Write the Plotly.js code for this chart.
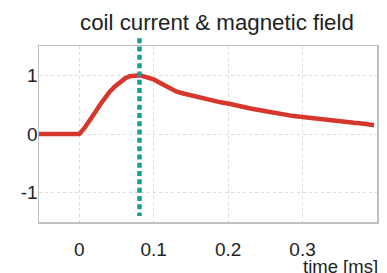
<!DOCTYPE html>
<html>
<head>
<meta charset="utf-8">
<script src="https://cdn.plot.ly/plotly-3.0.1.min.js"></script>
<style>html,body{margin:0;padding:0;background:#fff;}#chart{width:387px;height:273px;}</style>
</head>
<body>
<div id="chart"></div>
<script>
// time [ms]
const timeMs = [-0.054, 0, 0.007, 0.014, 0.021, 0.028, 0.035, 0.041, 0.048, 0.055, 0.062, 0.068, 0.075, 0.082, 0.09, 0.1, 0.11, 0.118, 0.125, 0.131, 0.14, 0.15, 0.158, 0.167, 0.176, 0.19, 0.203, 0.215, 0.23, 0.245, 0.261, 0.275, 0.288, 0.3, 0.315, 0.33, 0.342, 0.355, 0.369, 0.383, 0.396];
// normalized coil current / magnetic field
const fieldValues = [0, 0, 0.1, 0.22, 0.36, 0.5, 0.62, 0.72, 0.81, 0.89, 0.95, 0.985, 0.99, 1.0, 0.97, 0.93, 0.86, 0.8, 0.76, 0.72, 0.69, 0.66, 0.63, 0.6, 0.57, 0.54, 0.51, 0.47, 0.435, 0.40, 0.36, 0.335, 0.305, 0.29, 0.265, 0.245, 0.226, 0.21, 0.19, 0.175, 0.15];
// peak marker time
const peakTime = [0.081];
const xTickVals = [0, 0.1, 0.2, 0.3];
const xTickText = ['0', '0.1', '0.2', '0.3'];
const yTickVals = [-1, 0, 1];
const yTickText = ['-1', '0', '1'];
const titleText = 'coil current & magnetic field';
const xLabel = 'time [ms]';

const FONT = 'Liberation Sans, Arial, sans-serif';

const traces = [{
  x: timeMs,
  y: fieldValues,
  type: 'scatter',
  mode: 'lines',
  line: {color: '#d6362b', width: 4.5},
  hoverinfo: 'skip'
}];

const layout = {
  width: 387,
  height: 273,
  margin: {l: 39, r: 10, t: 46, b: 51},
  paper_bgcolor: '#ffffff',
  plot_bgcolor: '#ffffff',
  showlegend: false,
  font: {family: FONT, color: '#222', size: 19},
  xaxis: {
    range: [-0.054, 0.4],
    tickvals: xTickVals,
    ticktext: xTickText,
    ticks: '',
    ticklabelstandoff: 10,
    showgrid: true,
    gridcolor: '#dcdcdc',
    griddash: 'dot',
    gridwidth: 1,
    zeroline: false,
    showline: true,
    mirror: true,
    linecolor: '#c0c0c0',
    linewidth: 1.5,
    tickfont: {family: FONT, size: 19, color: '#222'}
  },
  yaxis: {
    range: [-1.5, 1.5],
    tickvals: yTickVals,
    ticktext: yTickText,
    ticks: '',
    ticklabelstandoff: -4,
    showgrid: true,
    gridcolor: '#dcdcdc',
    griddash: 'dot',
    gridwidth: 1,
    zeroline: false,
    showline: true,
    mirror: true,
    linecolor: '#c0c0c0',
    linewidth: 1.5,
    tickfont: {family: FONT, size: 19, color: '#222'}
  },
  shapes: [{
    type: 'line',
    xref: 'x',
    yref: 'paper',
    x0: peakTime[0], x1: peakTime[0],
    y0: 1.044, y1: 0.034,
    line: {color: '#169e98', width: 4.5, dash: '5px,3.3px'}
  }],
  annotations: [{
    text: titleText,
    xref: 'paper', yref: 'paper',
    x: 0.528, y: 1.05,
    xanchor: 'center', yanchor: 'bottom',
    showarrow: false,
    font: {family: FONT, size: 22.3, color: '#222'}
  }, {
    text: xLabel,
    xref: 'paper', yref: 'paper',
    x: 1.008, y: -0.25,
    xanchor: 'right', yanchor: 'middle',
    showarrow: false,
    font: {family: FONT, size: 18.5, color: '#222'}
  }]
};

Plotly.newPlot('chart', traces, layout, {staticPlot: true, displayModeBar: false});
</script>
</body>
</html>
